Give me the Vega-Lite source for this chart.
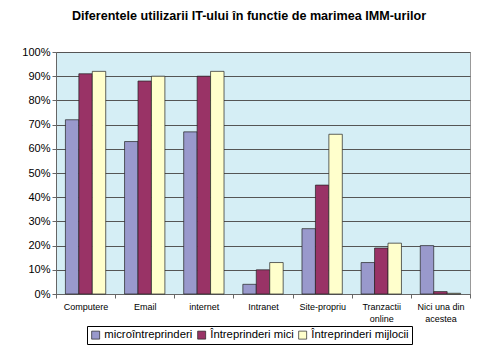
{
  "$schema": "https://vega.github.io/schema/vega-lite/v6.json",
  "autosize": "none",
  "width": 414,
  "height": 242,
  "padding": {"left": 56, "top": 52, "right": 30, "bottom": 57},
  "background": "white",
  "title": {
    "text": "Diferentele utilizarii IT-ului în functie de marimea IMM-urilor",
    "font": "Liberation Sans",
    "fontSize": 12.6,
    "fontWeight": "bold",
    "color": "black",
    "anchor": "middle",
    "frame": "group",
    "offset": 23,
    "dx": -14
  },
  "data": {
    "values": [
      {"categorie": "Computere", "tip": "microîntreprinderi", "valoare": 0.72},
      {"categorie": "Computere", "tip": "Întreprinderi mici", "valoare": 0.91},
      {"categorie": "Computere", "tip": "Întreprinderi mijlocii", "valoare": 0.92},
      {"categorie": "Email", "tip": "microîntreprinderi", "valoare": 0.63},
      {"categorie": "Email", "tip": "Întreprinderi mici", "valoare": 0.88},
      {"categorie": "Email", "tip": "Întreprinderi mijlocii", "valoare": 0.90},
      {"categorie": "internet", "tip": "microîntreprinderi", "valoare": 0.67},
      {"categorie": "internet", "tip": "Întreprinderi mici", "valoare": 0.90},
      {"categorie": "internet", "tip": "Întreprinderi mijlocii", "valoare": 0.92},
      {"categorie": "Intranet", "tip": "microîntreprinderi", "valoare": 0.04},
      {"categorie": "Intranet", "tip": "Întreprinderi mici", "valoare": 0.10},
      {"categorie": "Intranet", "tip": "Întreprinderi mijlocii", "valoare": 0.13},
      {"categorie": "Site-propriu", "tip": "microîntreprinderi", "valoare": 0.27},
      {"categorie": "Site-propriu", "tip": "Întreprinderi mici", "valoare": 0.45},
      {"categorie": "Site-propriu", "tip": "Întreprinderi mijlocii", "valoare": 0.66},
      {"categorie": "Tranzactii|online", "tip": "microîntreprinderi", "valoare": 0.13},
      {"categorie": "Tranzactii|online", "tip": "Întreprinderi mici", "valoare": 0.19},
      {"categorie": "Tranzactii|online", "tip": "Întreprinderi mijlocii", "valoare": 0.21},
      {"categorie": "Nici una din|acestea", "tip": "microîntreprinderi", "valoare": 0.20},
      {"categorie": "Nici una din|acestea", "tip": "Întreprinderi mici", "valoare": 0.01},
      {"categorie": "Nici una din|acestea", "tip": "Întreprinderi mijlocii", "valoare": 0.003}
    ]
  },
  "mark": {"type": "bar", "stroke": "#222222", "strokeWidth": 0.7},
  "encoding": {
    "x": {
      "field": "categorie",
      "type": "nominal",
      "sort": null,
      "scale": {"paddingInner": 0, "paddingOuter": 0},
      "axis": {
        "title": null,
        "labelAngle": 0,
        "labelExpr": "split(datum.label, '|')",
        "labelFont": "Liberation Sans",
        "labelFontSize": 9,
        "labelColor": "black",
        "labelPadding": 4,
        "labelLineHeight": 12,
        "tickBand": "extent",
        "tickColor": "#666666",
        "tickSize": 4,
        "domainColor": "#666666",
        "grid": false
      }
    },
    "xOffset": {
      "field": "tip",
      "type": "nominal",
      "sort": ["microîntreprinderi", "Întreprinderi mici", "Întreprinderi mijlocii"],
      "scale": {"paddingInner": 0, "paddingOuter": 0.7}
    },
    "y": {
      "field": "valoare",
      "type": "quantitative",
      "scale": {"domain": [0, 1], "nice": false},
      "axis": {
        "title": null,
        "format": ".0%",
        "values": [0, 0.1, 0.2, 0.3, 0.4, 0.5, 0.6, 0.7, 0.8, 0.9, 1],
        "labelFont": "Liberation Sans",
        "labelFontSize": 11,
        "labelColor": "black",
        "labelPadding": 2,
        "tickColor": "#666666",
        "tickSize": 4,
        "domainColor": "#666666",
        "gridColor": "#555555",
        "gridWidth": 1
      }
    },
    "color": {
      "field": "tip",
      "type": "nominal",
      "scale": {
        "domain": ["microîntreprinderi", "Întreprinderi mici", "Întreprinderi mijlocii"],
        "range": ["#9999cc", "#993366", "#ffffcc"]
      },
      "legend": {
        "title": null,
        "orient": "none",
        "direction": "horizontal",
        "legendX": 31,
        "legendY": 274,
        "symbolType": "square",
        "symbolSize": 64,
        "symbolStrokeColor": "#222222",
        "symbolStrokeWidth": 0.7,
        "symbolOpacity": 1,
        "labelFont": "Liberation Sans",
        "labelFontSize": 11.3,
        "labelColor": "black",
        "labelOffset": 3,
        "columnPadding": 3,
        "strokeColor": "black",
        "padding": 3
      }
    }
  },
  "config": {
    "view": {"fill": "#d5eef5", "stroke": "#999999"}
  }
}
